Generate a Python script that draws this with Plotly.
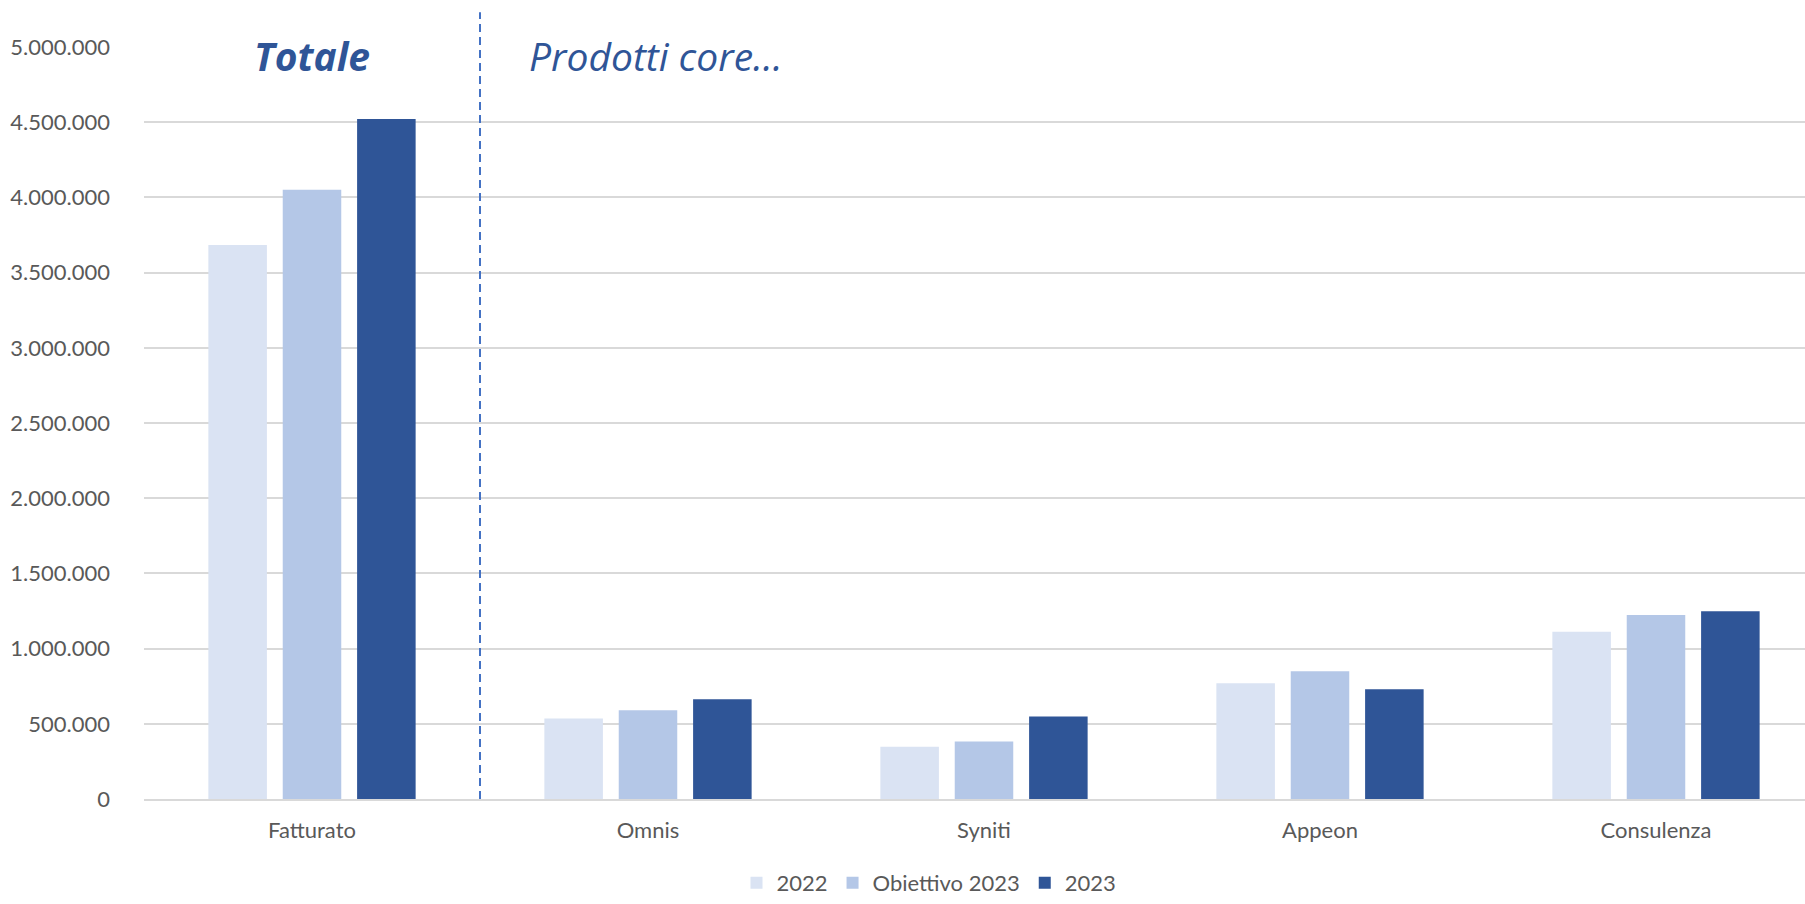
import plotly.graph_objects as go

categories = ["Fatturato", "Omnis", "Syniti", "Appeon", "Consulenza"]
series_names = ["2022", "Obiettivo 2023", "2023"]
values_2022 = [3683000, 535000, 347000, 770000, 1112000]
values_obiettivo_2023 = [4051000, 590000, 382000, 849000, 1224000]
values_2023 = [4522000, 664000, 548000, 730000, 1248000]
colors = ["#DAE3F3", "#B4C7E7", "#2F5597"]

FONT = "Lato"
HEAD_FONT = "Open Sans"
W, H = 1805, 904
ML, MR, MT, MB = 144, 0, 47, 97
plot_w = W - ML - MR
plot_h = H - MT - MB

def px_x(p):
    return (p - ML) / plot_w

fig = go.Figure()
for name, vals, col in zip(series_names, [values_2022, values_obiettivo_2023, values_2023], colors):
    fig.add_trace(go.Bar(x=categories, y=vals, name=name, marker=dict(color=col, line=dict(width=0))))

fig.update_layout(
    width=W, height=H, autosize=False,
    margin=dict(l=ML, r=MR, t=MT, b=MB),
    paper_bgcolor="white", plot_bgcolor="white",
    separators=",.",
    barmode="group", bargap=0.336, bargroupgap=0.213,
    font=dict(family=FONT, size=22, color="#595959"),
    legend=dict(orientation="h", x=px_x(929), xanchor="center",
                y=-(892 - (H - MB)) / plot_h, yanchor="middle",
                font=dict(family=FONT, size=22, color="#595959"),
                itemwidth=30, tracegroupgap=0),
    xaxis=dict(range=[-0.5, (W - ML) / 336 - 0.5], showgrid=False, showline=True,
               linecolor="#D9D9D9", linewidth=1.5, ticks="", ticklabelstandoff=11,
               tickfont=dict(family=FONT, size=22, color="#595959")),
    yaxis=dict(range=[0, 5000000], dtick=500000, tickformat=",", showgrid=True,
               gridcolor="#D9D9D9", gridwidth=1.5, zeroline=False, showline=False,
               ticks="", ticklabelstandoff=33,
               tickfont=dict(family=FONT, size=22, color="#595959")),
    showlegend=True,
)

# white boxes interrupting the top gridline behind the headings
for x0, x1 in [(189, 436), (505, 1164)]:
    fig.add_shape(type="rect", xref="paper", yref="paper",
                  x0=px_x(x0), x1=px_x(x1), y0=0.975, y1=1.03,
                  fillcolor="white", line=dict(width=0), layer="above")

# dashed separator between Fatturato and Omnis
fig.add_shape(type="line", xref="x", yref="paper", x0=0.5, x1=0.5, y0=0,
              y1=1 + (MT - 12) / plot_h,
              line=dict(color="#4472C4", width=2, dash="8px,5px"), layer="above")

fig.add_annotation(text="<b><i>Totale</i></b>", xref="x", yref="paper", x=0, y=1,
                   xanchor="center", yanchor="middle", yshift=-8, showarrow=False,
                   font=dict(family=HEAD_FONT, size=39, color="#2F5597"))
fig.add_annotation(text="<i>Prodotti core…</i>", xref="paper", yref="paper", x=px_x(527), y=1,
                   xanchor="left", yanchor="middle", yshift=-8, showarrow=False,
                   font=dict(family=HEAD_FONT, size=39, color="#2F5597"))

fig.write_html("out.html", config={"displayModeBar": False},
               post_script="document.body.style.margin='0';document.body.style.overflow='hidden';")
